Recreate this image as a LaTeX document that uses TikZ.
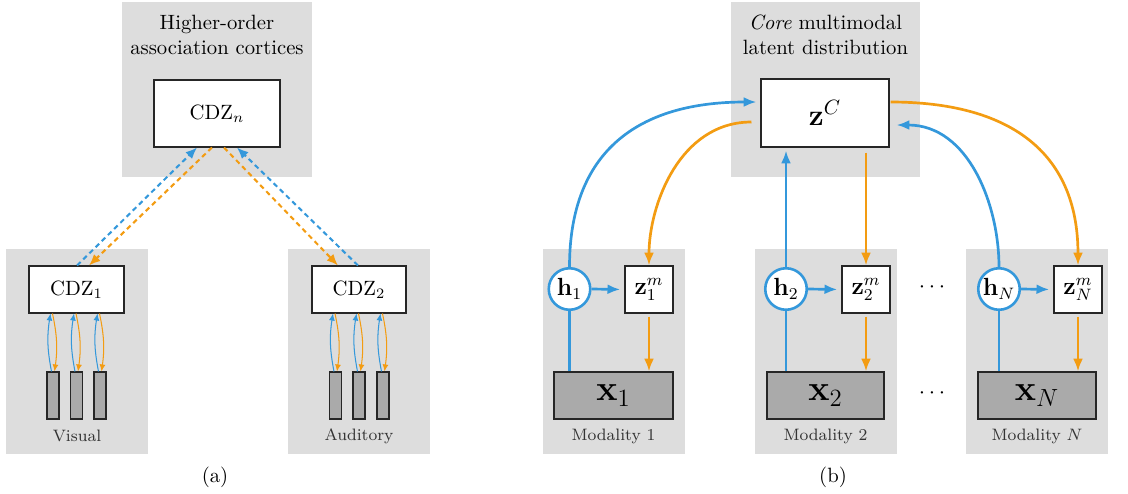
\documentclass[tikz,border=0pt]{standalone}
\usetikzlibrary{arrows.meta,calc}
\definecolor{cblue}{HTML}{3498DB}
\definecolor{corange}{HTML}{F39C12}
\definecolor{bggray}{HTML}{DDDDDD}
\definecolor{bargray}{HTML}{AAAAAA}
\newcommand\pxu{0.4835pt}
\begin{document}
\begin{tikzpicture}[x=0.4835pt,y=-0.4835pt,
  box/.style={draw=black!85, line width=0.5pt, fill=white, inner sep=0pt},
  bar/.style={draw=black!85, line width=0.5pt, fill=bargray, inner sep=0pt,
    minimum width=12*\pxu, minimum height=47*\pxu},
  xbox/.style={draw=black!85, line width=0.5pt, fill=bargray, inner sep=0pt,
    minimum height=47*\pxu},
  zmbox/.style={box, minimum width=48*\pxu, minimum height=47*\pxu, font=\fontsize{12}{14}\selectfont},
  hcirc/.style={circle, draw=cblue, line width=1.25pt, fill=white, inner sep=0pt,
    minimum size=41.5*\pxu, font=\fontsize{12}{14}\selectfont},
  title/.style={align=center, inner sep=0pt},
  lab/.style={font=\footnotesize, text=black!80, inner sep=0pt},
  thinb/.style={draw=cblue, line width=0.5pt, -{Latex[length=3.4pt,width=2.9pt]}},
  thino/.style={draw=corange, line width=0.5pt, -{Latex[length=3.4pt,width=2.9pt]}},
  dblue/.style={draw=cblue, line width=1pt, dash pattern=on 2.4pt off 1.8pt, -{Latex[length=5.5pt,width=4.6pt]}},
  dorange/.style={draw=corange, line width=1pt, dash pattern=on 2.4pt off 1.8pt, -{Latex[length=5.5pt,width=4.6pt]}},
  tblue/.style={draw=cblue, line width=1.3pt},
  torange/.style={draw=corange, line width=1.3pt},
  tip/.style={-{Latex[length=6.2pt,width=4.8pt]}}
]
\useasboundingbox (0,0) rectangle (1128,493);

% ---------------- panel (a) ----------------
\fill[bggray] (122,2) rectangle (312,177);
\node[title] (tA) at (217,35) {Higher-order\\association cortices};
\node[box, minimum width=126*\pxu, minimum height=67*\pxu] (cdzn) at (217,113.5) {CDZ$_n$};

\fill[bggray] (6,249) rectangle (148,454);
\node[box, minimum width=95*\pxu, minimum height=47*\pxu] (cdz1) at (76.5,289.5) {CDZ$_1$};
\node[bar] (v1) at (53,395.5) {};
\node[bar] (v2) at (76.5,395.5) {};
\node[bar] (v3) at (100,395.5) {};
\node[lab] (vis) at (77,436) {Visual};

\fill[bggray] (288,249) rectangle (430,454);
\node[box, minimum width=94*\pxu, minimum height=47*\pxu] (cdz2) at (359,289.5) {CDZ$_2$};
\node[bar] (a1) at (335.5,395.5) {};
\node[bar] (a2) at (359,395.5) {};
\node[bar] (a3) at (383,395.5) {};
\node[lab] (aud) at (359,436) {Auditory};

\foreach \b/\c in {v1/cdz1,v2/cdz1,v3/cdz1,a1/cdz2,a2/cdz2,a3/cdz2}{
  \draw[thinb] ($(\b.north)+(-1.5,0)$) to[bend left=10] ($(\b.north |- \c.south)+(-2.5,0)$);
  \draw[thino] ($(\b.north |- \c.south)+(-0.5,0)$) to[bend left=10] ($(\b.north)+(1.5,0)$);
}

\draw[dblue] ($(cdz1.north)+(0.5,0)$) -- ($(cdzn.south)+(-20,0)$);
\draw[dorange] ($(cdzn.south)+(-5,0)$) -- ($(cdz1.north)+(12.5,0)$);
\draw[dorange] ($(cdzn.south)+(7,0)$) -- ($(cdz2.north)+(-21,0)$);
\draw[dblue] ($(cdz2.north)+(-1,0)$) -- ($(cdzn.south)+(20,0)$);

\node (capa) at (215,477) {(a)};

% ---------------- panel (b) ----------------
\fill[bggray] (731,2) rectangle (920,177);
\node[title] (tB) at (825.5,35) {\textit{Core} multimodal\\latent distribution};
\node[box, minimum width=128*\pxu, minimum height=68*\pxu, font=\Large] (zc) at (825,113) {$\mathbf{z}^{C}$};

% module 1
\fill[bggray] (543,249) rectangle (685,454);
\node[hcirc] (h1) at (569.5,289) {$\mathbf{h}_1$};
\node[zmbox] (z1) at (649,289.5) {$\mathbf{z}_1^m$};
\node[xbox, minimum width=119*\pxu] (x1) at (613.5,395.5) {\LARGE$\mathbf{x}_{\LARGE 1}$};
\node[lab] (m1) at (613.5,436) {Modality 1};

% module 2
\fill[bggray] (755,249) rectangle (897,454);
\node[hcirc] (h2) at (786,289) {$\mathbf{h}_2$};
\node[zmbox] (z2) at (866,289.5) {$\mathbf{z}_2^m$};
\node[xbox, minimum width=117*\pxu] (x2) at (825.5,395.5) {\LARGE$\mathbf{x}_{\LARGE 2}$};
\node[lab] (m2) at (825.5,436) {Modality 2};

% module N
\fill[bggray] (966,249) rectangle (1108,454);
\node[hcirc] (hN) at (999,289) {$\mathbf{h}_N$};
\node[zmbox] (zN) at (1078,289.5) {$\mathbf{z}_N^m$};
\node[xbox, minimum width=118*\pxu] (xN) at (1037,395.5) {\LARGE$\mathbf{x}_{\LARGE N}$};
\node[lab] (mN) at (1037,436) {Modality $N$};

\node[font=\fontsize{11}{13}\selectfont] (dots1) at (932,287) {$\cdots$};
\node[font=\fontsize{11}{13}\selectfont] (dots2) at (932,393) {$\cdots$};

% module connectors
\foreach \h/\z/\x in {h1/z1/x1,h2/z2/x2,hN/zN/xN}{
  \draw[tblue] (\x.north -| \h) -- (\h.south);
  \draw[tblue,tip,shorten >=2pt] (\h.east) -- (\z.west);
  \draw[torange,tip,shorten <=1.5pt] (\z.south) -- (\x.north -| \z);
}

% to / from the core
\draw[tblue,tip] (h1.north) .. controls +(0,-117) and +(-117,0) .. ($(zc.west)+(-4,-11)$);
\draw[torange,tip] ($(zc.west)+(-9,9)$) .. controls +(-72,0) and +(0,-60) .. (z1.north);
\draw[tblue,tip] (h2.north) -- ($(h2.north |- zc.south)+(0,3)$);
\draw[torange,tip] ($(zc.south)+(41,5)$) -- (z2.north);
\draw[torange,tip] ($(zc.east)+(1,-11)$) .. controls +(117,0) and +(0,-115) .. (zN.north);
\draw[tblue,tip] (hN.north) .. controls +(0,-62) and +(72,0) .. ($(zc.east)+(7,12)$);

\node (capb) at (833,477) {(b)};
\end{tikzpicture}
\end{document}
